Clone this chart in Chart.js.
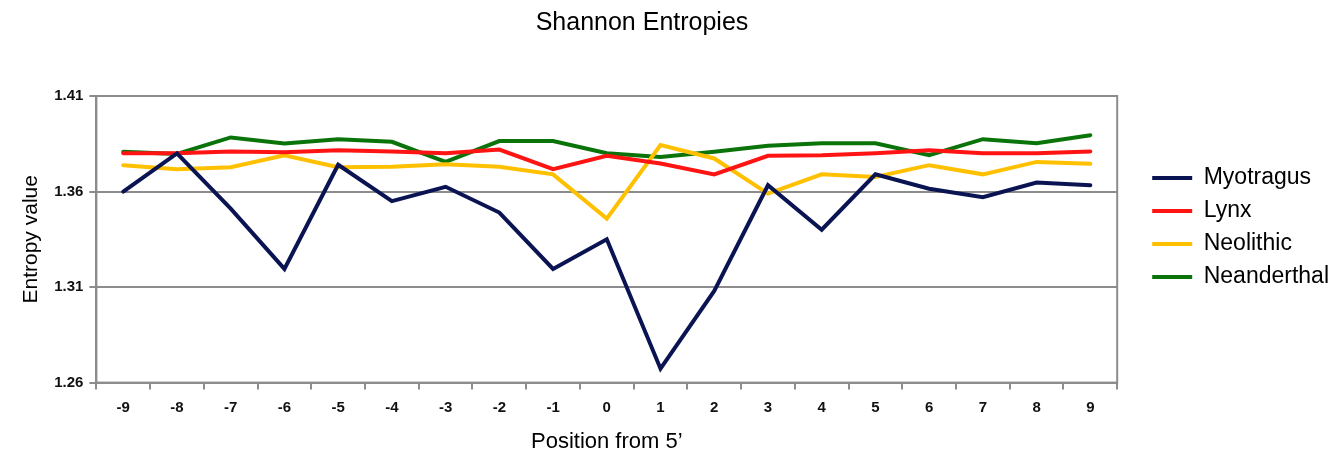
<!DOCTYPE html>
<html lang="en">
<head>
  <meta charset="UTF-8">
  <title>Shannon Entropies</title>
  <style>
    body { margin: 0; background: #fff; }
    #wrap { width: 1339px; height: 463px; }
  </style>
  <script src="https://cdn.jsdelivr.net/npm/chart.js"></script>
</head>
<body>
  <div id="wrap"><canvas id="chart"></canvas></div>
  <script>
    // positions from 5'
    const positions = ['-9','-8','-7','-6','-5','-4','-3','-2','-1','0','1','2','3','4','5','6','7','8','9'];

    // entropy values
    const myotragus   = [1.360, 1.380, 1.351, 1.3195, 1.374, 1.355, 1.3625, 1.349, 1.3195, 1.335, 1.2673, 1.308, 1.3633, 1.340, 1.369, 1.3615, 1.357, 1.3647, 1.3633];
    const lynx        = [1.380, 1.380, 1.381, 1.3805, 1.3816, 1.381, 1.380, 1.382, 1.3717, 1.3787, 1.3747, 1.369, 1.3787, 1.379, 1.380, 1.3816, 1.380, 1.380, 1.381];
    const neolithic   = [1.3738, 1.3717, 1.3727, 1.379, 1.3727, 1.373, 1.3743, 1.373, 1.369, 1.3458, 1.3843, 1.3773, 1.3589, 1.369, 1.3676, 1.3738, 1.369, 1.3755, 1.3745];
    const neanderthal = [1.3808, 1.3797, 1.3883, 1.3852, 1.3874, 1.386, 1.3755, 1.3864, 1.3864, 1.380, 1.3781, 1.3808, 1.3839, 1.3853, 1.3853, 1.379, 1.3874, 1.3853, 1.3895];

    const yTicks = [1.26, 1.31, 1.36, 1.41];

    const font = 'Liberation Sans, Arial, sans-serif';
    const grey = '#8c8c8c';

    function series(label, data, color) {
      return {
        label, data,
        borderColor: color, backgroundColor: color,
        borderWidth: 4, pointRadius: 0, tension: 0,
        borderCapStyle: 'round', borderJoinStyle: 'miter'
      };
    }

    // grey frame round the plot area, title nudged left like the original
    const frame = {
      id: 'frame',
      afterLayout(chart) {
        if (chart.titleBlock) chart.titleBlock.left -= 74;
      },
      afterDatasetsDraw(chart) {
        const a = chart.chartArea, c = chart.ctx;
        c.save();
        c.strokeStyle = grey;
        c.lineWidth = 2;
        c.strokeRect(a.left, a.top, a.right - a.left, a.bottom - a.top);
        c.restore();
      }
    };

    new Chart(document.getElementById('chart'), {
      type: 'line',
      data: {
        labels: positions,
        datasets: [
          series('Myotragus', myotragus, '#0b1452'),
          series('Lynx', lynx, '#ff1414'),
          series('Neolithic', neolithic, '#ffc000'),
          series('Neanderthal', neanderthal, '#0a740a')
        ]
      },
      options: {
        responsive: true,
        maintainAspectRatio: false,
        animation: false,
        layout: { padding: { left: 19, right: 0, top: 0, bottom: 8 } },
        plugins: {
          title: {
            display: true, text: 'Shannon Entropies', color: '#000',
            font: { family: font, size: 25, weight: 'normal' },
            padding: { top: 8, bottom: 58 }
          },
          legend: {
            position: 'right',
            labels: {
              color: '#000',
              font: { family: font, size: 23 },
              usePointStyle: true, pointStyle: 'line', pointStyleWidth: 40,
              boxHeight: 4,
              padding: 10
            }
          },
          tooltip: { enabled: false }
        },
        scales: {
          x: {
            offset: true,
            grid: { offset: true, drawOnChartArea: false, color: grey, lineWidth: 2, tickLength: 7 },
            border: { color: grey, width: 2 },
            ticks: { color: '#111', font: { family: font, size: 15, weight: 'bold' }, padding: 9, maxRotation: 0 },
            title: { display: true, text: 'Position from 5\u2019', color: '#000', font: { family: font, size: 22 }, padding: { top: 3, bottom: 0 } }
          },
          y: {
            min: 1.26, max: 1.41,
            afterBuildTicks(axis) { axis.ticks = yTicks.map(v => ({ value: v })); },
            grid: { color: grey, lineWidth: 2, tickLength: 7 },
            border: { color: grey, width: 2 },
            ticks: { color: '#111', font: { family: font, size: 15, weight: 'bold' }, padding: 6, callback: v => Number(v).toFixed(2) },
            title: { display: true, text: 'Entropy value', color: '#000', font: { family: font, size: 21 }, padding: { top: 0, bottom: 4 } }
          },
          // empty spacer between the plot and the legend
          gap: {
            position: 'right', display: true,
            grid: { display: false }, border: { display: false }, ticks: { display: false },
            afterFit(s) { s.width = 25; }
          }
        }
      },
      plugins: [frame]
    });
  </script>
</body>
</html>
